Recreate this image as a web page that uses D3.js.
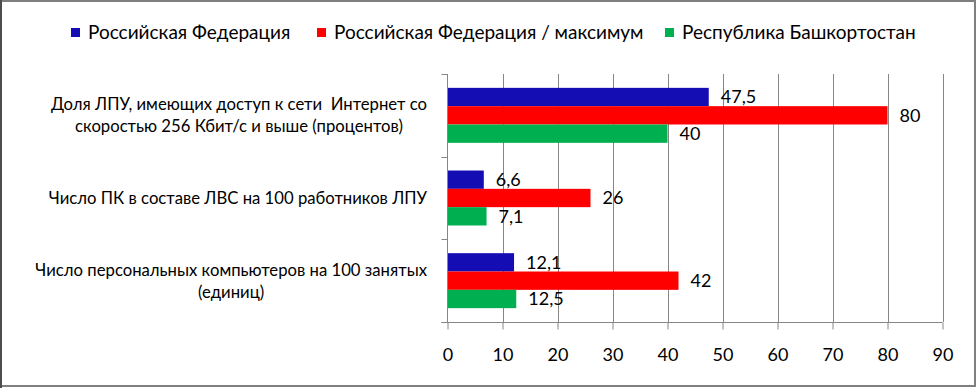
<!DOCTYPE html>
<html><head><meta charset="utf-8">
<script src="https://cdn.jsdelivr.net/npm/d3@7/dist/d3.min.js"></script>
<style>
html,body{margin:0;padding:0;background:#fff;}
svg{display:block;}
text{font-family:Lato,"Open Sans",sans-serif;fill:#000;}
</style></head>
<body>
<script>
const categories = [
  ["Доля ЛПУ, имеющих доступ к сети  Интернет со", "скоростью 256 Кбит/с и выше (процентов)"],
  ["Число ПК в составе ЛВС на 100 работников ЛПУ"],
  ["Число персональных компьютеров на 100 занятых", "(единиц)"]
];
const seriesNames = ["Российская Федерация", "Российская Федерация / максимум", "Республика Башкортостан"];
const seriesColors = ["#150DB4", "#FF0000", "#00B050"];
const rfValues = [47.5, 6.6, 12.1];
const rfMaxValues = [80, 26, 42];
const rbValues = [40, 7.1, 12.5];
const valueLabels = [["47,5","6,6","12,1"],["80","26","42"],["40","7,1","12,5"]];
const xTicks = [0,10,20,30,40,50,60,70,80,90];

const W = 977, H = 388;
const svg = d3.select("body").append("svg").attr("width", W).attr("height", H);
svg.append("rect").attr("x",0).attr("y",0).attr("width",W).attr("height",H).attr("fill","#fff");

const plot = {left:447.5, right:942.5, top:74, bottom:322};
const x = d3.scaleLinear().domain([0,90]).range([plot.left, plot.right]);
const p = 0.335;
const y = d3.scaleBand().domain(d3.range(categories.length)).range([plot.top, plot.bottom]).paddingInner(p).paddingOuter(p/2);
const ys = d3.scaleBand().domain(d3.range(3)).range([0, y.bandwidth()]);

// gridlines
svg.append("g").selectAll("line").data(xTicks.slice(1)).join("line")
  .attr("x1", d=>Math.round(x(d))+0.5).attr("x2", d=>Math.round(x(d))+0.5)
  .attr("y1", plot.top).attr("y2", plot.bottom)
  .attr("stroke","#868686").attr("stroke-width",1);

// bars
const all = [rfValues, rfMaxValues, rbValues];
all.forEach((vals, si) => {
  svg.append("g").selectAll("rect").data(vals).join("rect")
    .attr("x", x(0)).attr("y", (d,i)=>y(i)+ys(si))
    .attr("width", d=>x(d)-x(0)).attr("height", ys.bandwidth())
    .attr("fill", seriesColors[si]);
  svg.append("g").selectAll("text").data(vals).join("text")
    .attr("x", d=>x(d)+12).attr("y", (d,i)=>y(i)+ys(si)+ys.bandwidth()/2)
    .attr("dy","0.36em").attr("font-size",18)
    .text((d,i)=>valueLabels[si][i]);
});

// x axis
const xAxis = d3.axisBottom(x).tickValues(xTicks).tickSize(7).tickPadding(19).tickFormat(d=>d);
const gx = svg.append("g").attr("transform",`translate(0,${plot.bottom+0.5})`).call(xAxis);
gx.select(".domain").attr("d", `M${plot.left-6},0H${plot.right}`).attr("stroke","#868686");
gx.selectAll(".tick line").attr("stroke","#868686");
gx.selectAll(".tick text").attr("font-size",18).attr("font-family","Lato").attr("fill","#000");

// y axis
const yTickPos = d3.range(categories.length+1).map(i=>plot.top + i*(plot.bottom-plot.top)/categories.length);
svg.append("line").attr("x1",plot.left).attr("x2",plot.left).attr("y1",plot.top).attr("y2",plot.bottom)
  .attr("stroke","#868686");
svg.append("g").selectAll("line").data(yTickPos).join("line")
  .attr("x1",plot.left-6).attr("x2",plot.left).attr("y1",d=>Math.round(d)+0.5).attr("y2",d=>Math.round(d)+0.5)
  .attr("stroke","#868686");

// category labels (centered block, right edge of widest line at labelRight)
const labelRight = 427;
const lblG = svg.append("g");
categories.forEach((lines,i)=>{
  const cy = y(i) + y.bandwidth()/2;
  const widths = lines.map(ln=>{
    const tmp = lblG.append("text").attr("font-size",16.7).style("white-space","pre").text(ln);
    const w = tmp.node().getComputedTextLength(); tmp.remove(); return w;
  });
  const cx = labelRight - d3.max(widths)/2;
  lines.forEach((ln,j)=>{
    lblG.append("text").attr("font-size",16.7).attr("text-anchor","middle").style("white-space","pre")
      .attr("x", cx).attr("y", cy + (j - (lines.length-1)/2)*22).attr("dy","0.36em").text(ln);
  });
});

// legend
const legX = [71, 317, 665];
seriesNames.forEach((n,i)=>{
  svg.append("rect").attr("x",legX[i]).attr("y",28).attr("width",9).attr("height",9).attr("fill",seriesColors[i]);
  svg.append("text").attr("x",legX[i]+17).attr("y",32.5).attr("dy","0.36em").attr("font-size",19).text(n);
});

// border
svg.append("rect").attr("x",1).attr("y",1).attr("width",W-3).attr("height",H-3)
  .attr("fill","none").attr("stroke","#7f7f7f").attr("stroke-width",2);
svg.append("line").attr("x1",1).attr("x2",1).attr("y1",0).attr("y2",H).attr("stroke","#4d4d4d").attr("stroke-width",2);
</script>
</body></html>
